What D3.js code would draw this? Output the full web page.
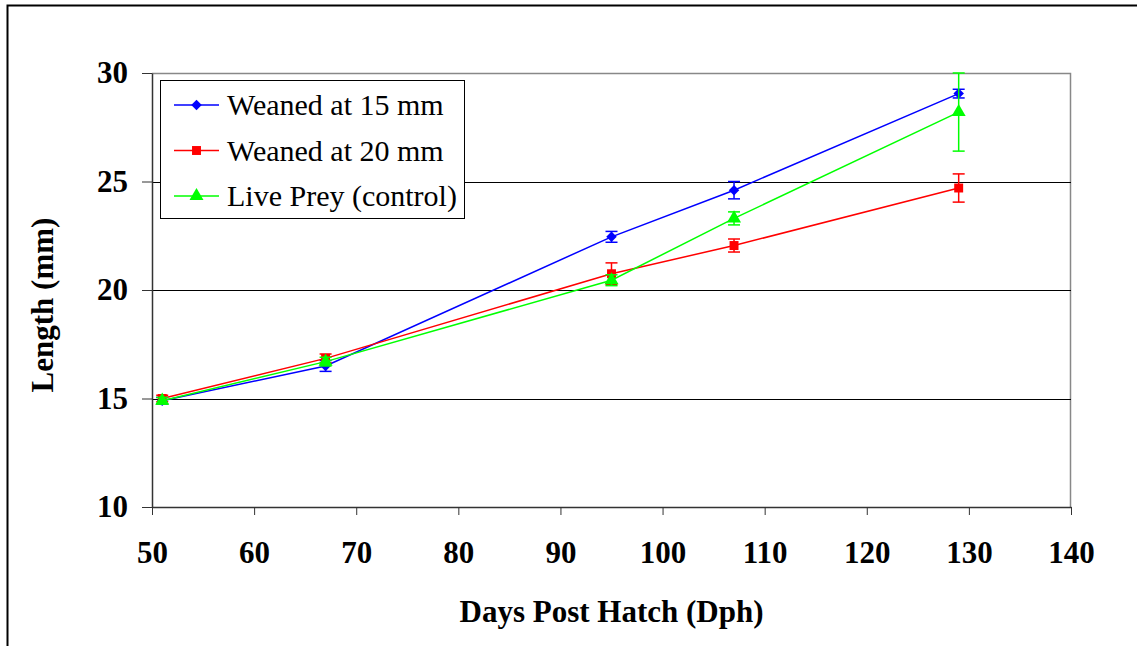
<!DOCTYPE html>
<meta charset="utf-8" />
<head>
  <style>
    body { margin: 0; background: #fff; }
    svg text { font-family: "Liberation Serif", "Times New Roman", serif; }
  </style>
  <script src="https://d3js.org/d3.v7.min.js"></script>
</head>
<body>
  <svg width="1137" height="646"></svg>
  <script>
    // days post hatch
    const days = [51, 67, 95, 107, 129];
    const seriesNames = ["Weaned at 15 mm", "Weaned at 20 mm", "Live Prey (control)"];
    const weaned15 = [14.9, 16.5, 22.45, 24.6, 29.05];
    const weaned15Err = [0.15, 0.25, 0.25, 0.4, 0.2];
    const weaned20 = [15.0, 16.85, 20.75, 22.05, 24.7];
    const weaned20Err = [0.15, 0.2, 0.5, 0.3, 0.65];
    const livePrey = [14.9, 16.7, 20.45, 23.3, 28.2];
    const livePreyErr = [0.15, 0.2, 0.25, 0.3, 1.8];
    const xTicks = [50, 60, 70, 80, 90, 100, 110, 120, 130, 140];
    const yTicks = [10, 15, 20, 25, 30];

    const serif = '"Liberation Serif", "Times New Roman", serif';
    const svg = d3.select("svg");
    const plotL = 152, plotT = 73, plotR = 1071, plotB = 507;

    const x = d3.scaleLinear().domain([50, 140]).range([plotL, plotR]);
    const y = d3.scaleLinear().domain([10, 30]).range([plotB, plotT]);

    // outer frame (only top and left visible)
    svg.append("path")
      .attr("d", "M7.5,646 V5.5 H1137")
      .attr("fill", "none").attr("stroke", "#000").attr("stroke-width", 2);

    // plot frame top/right in gray
    svg.append("path")
      .attr("d", `M${plotL},${plotT + 0.5} H${plotR - 0.5} V${plotB}`)
      .attr("fill", "none").attr("stroke", "#888").attr("stroke-width", 1.5);

    // gridlines
    svg.append("g").selectAll("line")
      .data(yTicks.filter(d => d > 10 && d < 30))
      .join("line")
      .attr("x1", plotL).attr("x2", plotR)
      .attr("y1", d => Math.round(y(d)) + 0.5).attr("y2", d => Math.round(y(d)) + 0.5)
      .attr("stroke", "#000").attr("stroke-width", 1);

    // axes
    const xAxis = svg.append("g")
      .attr("transform", `translate(0,${plotB})`)
      .call(d3.axisBottom(x).tickValues(xTicks).tickSize(8).tickPadding(26).tickSizeOuter(0));
    const yAxis = svg.append("g")
      .attr("transform", `translate(${plotL},0)`)
      .call(d3.axisLeft(y).tickValues(yTicks).tickSize(10).tickPadding(14).tickSizeOuter(0));
    [xAxis, yAxis].forEach(a => {
      a.attr("font-family", serif).attr("font-size", null);
      a.select(".domain").attr("stroke", "#333").attr("stroke-width", 1.5);
      a.selectAll(".tick line").attr("stroke", "#333");
      a.selectAll(".tick text").attr("fill", "#000")
        .style("font-size", "31px").style("font-weight", "bold");
    });
    xAxis.selectAll(".tick text").attr("dy", "0.71em");

    // axis titles
    svg.append("text")
      .attr("x", (plotL + plotR) / 2).attr("y", 622)
      .attr("text-anchor", "middle")
      .style("font-family", serif)
      .style("font-size", "31px").style("font-weight", "bold")
      .text("Days Post Hatch (Dph)");
    svg.append("text")
      .attr("transform", "translate(53,305) rotate(-90)")
      .attr("text-anchor", "middle")
      .style("font-family", serif)
      .style("font-size", "31px").style("font-weight", "bold")
      .text("Length (mm)");

    const series = [
      { name: seriesNames[0], vals: weaned15, err: weaned15Err, color: "#0000ff", sym: d3.symbolSquare, size: 55, rot: 45 },
      { name: seriesNames[1], vals: weaned20, err: weaned20Err, color: "#ff0000", sym: d3.symbolSquare, size: 80, rot: 0 },
      { name: seriesNames[2], vals: livePrey, err: livePreyErr, color: "#00ff00", sym: d3.symbolTriangle, size: 85, rot: 0 }
    ];

    const line = d3.line().x(d => x(d.day)).y(d => y(d.v));

    series.forEach(s => {
      const pts = days.map((d, i) => ({ day: d, v: s.vals[i], e: s.err[i] }));
      const g = svg.append("g");
      g.append("path").datum(pts)
        .attr("d", line).attr("fill", "none")
        .attr("stroke", s.color).attr("stroke-width", 1.5);
      const eb = g.selectAll(".eb").data(pts).join("g");
      eb.append("line")
        .attr("x1", d => x(d.day)).attr("x2", d => x(d.day))
        .attr("y1", d => y(d.v - d.e)).attr("y2", d => y(d.v + d.e))
        .attr("stroke", s.color).attr("stroke-width", 1.5);
      [-1, 1].forEach(sg => {
        eb.append("line")
          .attr("x1", d => x(d.day) - 6).attr("x2", d => x(d.day) + 6)
          .attr("y1", d => y(d.v + sg * d.e)).attr("y2", d => y(d.v + sg * d.e))
          .attr("stroke", s.color).attr("stroke-width", 1.5);
      });
      g.selectAll(".pt").data(pts).join("path")
        .attr("transform", d => `translate(${x(d.day)},${y(d.v)}) rotate(${s.rot})`)
        .attr("d", d3.symbol().type(s.sym).size(s.size))
        .attr("fill", s.color);
    });

    // legend
    const lg = svg.append("g").attr("transform", "translate(160,80)");
    lg.append("rect").attr("x", 0.5).attr("y", 0.5).attr("width", 304).attr("height", 138)
      .attr("fill", "#fff").attr("stroke", "#000").attr("stroke-width", 1);
    series.forEach((s, i) => {
      const yy = 25 + i * 45.5;
      lg.append("line").attr("x1", 14).attr("x2", 59).attr("y1", yy).attr("y2", yy)
        .attr("stroke", s.color).attr("stroke-width", 1.5);
      lg.append("path").attr("transform", `translate(36.5,${yy}) rotate(${s.rot})`)
        .attr("d", d3.symbol().type(s.sym).size(s.size)).attr("fill", s.color);
      lg.append("text").attr("x", 67).attr("y", yy + 10)
        .style("font-family", serif)
        .style("font-size", "30px").text(s.name);
    });
  </script>
</body>
